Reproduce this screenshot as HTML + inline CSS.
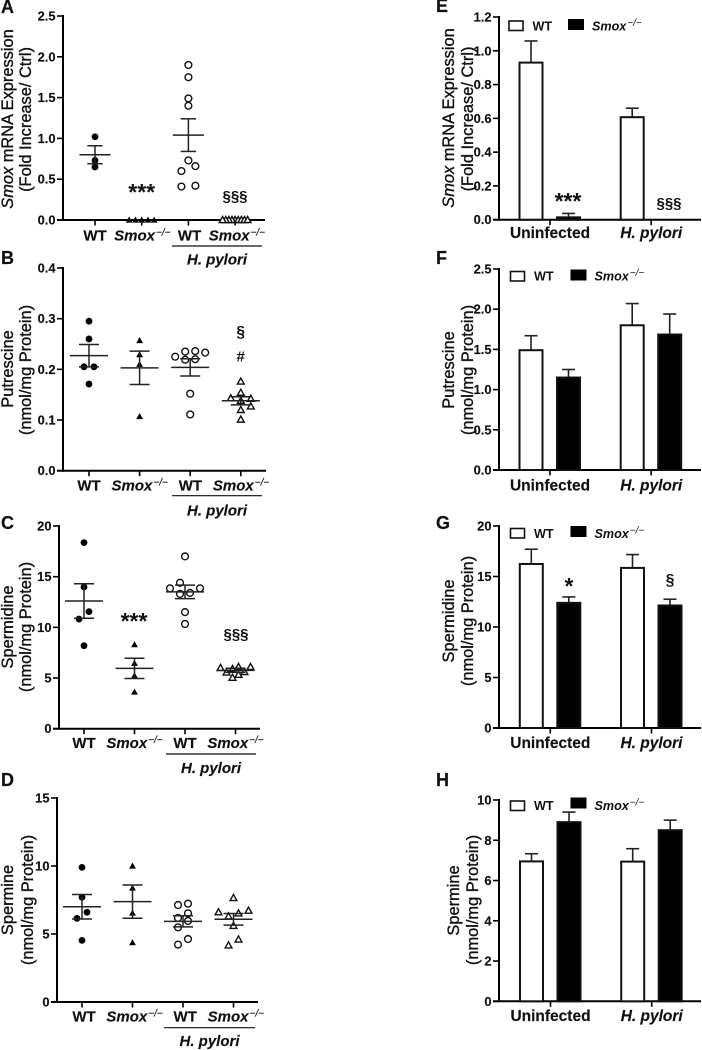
<!DOCTYPE html>
<html lang="en">
<head>
<meta charset="utf-8">
<title>Smox polyamine figure</title>
<style>
html,body{margin:0;padding:0;background:#fff;}
svg{display:block;font-family:"Liberation Sans",Arial,sans-serif;filter:blur(0.35px);}
.letter{font-size:18px;font-weight:bold;fill:#111;stroke:#111;stroke-width:.2px;}
.ytitle{font-size:16.4px;fill:#111;stroke:#111;stroke-width:.35px;text-anchor:middle;}
.tick{font-size:12.9px;font-weight:bold;fill:#111;stroke:#111;stroke-width:.15px;text-anchor:end;}
.cat{font-size:15px;font-weight:bold;fill:#111;stroke:#111;stroke-width:.15px;text-anchor:middle;}
.group{font-size:15.5px;font-weight:bold;fill:#111;stroke:#111;stroke-width:.15px;text-anchor:middle;}
.note{font-weight:bold;fill:#111;text-anchor:middle;}
.leg{font-size:12.6px;font-weight:bold;fill:#111;}
</style>
</head>
<body>
<svg id="figure" width="702" height="1050" viewBox="0 0 702 1050" xmlns="http://www.w3.org/2000/svg">
<rect width="702" height="1050" fill="#fff"/>

<g id="panel-a">
  <text class="letter" x="1" y="13">A</text>
  <text class="ytitle" transform="translate(13 119) rotate(-90)"><tspan font-style="italic">Smox</tspan> mRNA Expression</text>
  <text class="ytitle" transform="translate(31 119.5) rotate(-90)">(Fold Increase/ Ctrl)</text>
</g>
<g id="panel-b">
  <text class="letter" x="1" y="264">B</text>
  <text class="ytitle" transform="translate(13 369) rotate(-90)">Putrescine</text>
  <text class="ytitle" transform="translate(31 370) rotate(-90)">(nmol/mg Protein)</text>
</g>
<g id="panel-c">
  <text class="letter" x="1" y="529">C</text>
  <text class="ytitle" transform="translate(13 627) rotate(-90)">Spermidine</text>
  <text class="ytitle" transform="translate(31 627) rotate(-90)">(nmol/mg Protein)</text>
</g>
<g id="panel-d">
  <text class="letter" x="1" y="786">D</text>
  <text class="ytitle" transform="translate(13 900) rotate(-90)">Spermine</text>
  <text class="ytitle" transform="translate(33 900) rotate(-90)">(nmol/mg Protein)</text>
</g>
<g id="panel-e">
  <text class="letter" x="436" y="12">E</text>
  <text class="ytitle" transform="translate(454 118) rotate(-90)"><tspan font-style="italic">Smox</tspan> mRNA Expression</text>
  <text class="ytitle" transform="translate(473 119) rotate(-90)">(Fold Increase/ Ctrl)</text>
</g>
<g id="panel-f">
  <text class="letter" x="436" y="264">F</text>
  <text class="ytitle" transform="translate(454 370) rotate(-90)">Putrescine</text>
  <text class="ytitle" transform="translate(473 370) rotate(-90)">(nmol/mg Protein)</text>
</g>
<g id="panel-g">
  <text class="letter" x="436" y="529">G</text>
  <text class="ytitle" transform="translate(454 621) rotate(-90)">Spermidine</text>
  <text class="ytitle" transform="translate(473 621) rotate(-90)">(nmol/mg Protein)</text>
</g>
<g id="panel-h">
  <text class="letter" x="436" y="786">H</text>
  <text class="ytitle" transform="translate(459 900.5) rotate(-90)">Spermine</text>
  <text class="ytitle" transform="translate(478 900) rotate(-90)">(nmol/mg Protein)</text>
</g>
</svg>

<script>
// ---------- Shared labels ----------
const scatterCategories = ["WT", "Smox", "WT", "Smox"];
const barGroupLabels = ["Uninfected", "H. pylori"];
const legendLabels = ["WT", "Smox"];
const knockoutSuffix = "\u2212/\u2212";
const infectedLabel = "H. pylori";

// ---------- Panel A ----------
const aTicks = ["0.0", "0.5", "1.0", "1.5", "2.0", "2.5"];
const aWT = [1.02, 0.73, 0.65];
const aKO = [0, 0, 0, 0, 0];
const aHpWT = [1.90, 1.75, 1.49, 1.40, 0.73, 0.66, 0.60, 0.42, 0.41];
const aHpKO = [0, 0, 0, 0, 0, 0, 0, 0, 0];
const aMeans = [0.80, 0, 1.04, 0];
const aSems = [0.11, 0, 0.20, 0];

// ---------- Panel B ----------
const bTicks = ["0.0", "0.1", "0.2", "0.3", "0.4"];
const bWT = [0.295, 0.26, 0.205, 0.205, 0.171];
const bKO = [0.257, 0.229, 0.21, 0.107];
const bHpWT = [0.236, 0.235, 0.233, 0.225, 0.22, 0.219, 0.152, 0.111];
const bHpKO = [0.176, 0.154, 0.143, 0.142, 0.138, 0.127, 0.12, 0.101];
const bMeans = [0.227, 0.203, 0.204, 0.138];
const bSems = [0.022, 0.033, 0.017, 0.008];

// ---------- Panel C ----------
const cTicks = ["0", "5", "10", "15", "20"];
const cWT = [18.36, 13.98, 11.55, 10.82, 8.19];
const cKO = [8.29, 6.45, 5.23, 3.62];
const cHpWT = [17.0, 14.4, 13.85, 13.85, 13.4, 13.3, 11.5, 10.33];
const cHpKO = [6.1, 6.1, 6.0, 5.9, 5.6, 5.55, 5.33, 5.03];
const cMeans = [12.6, 5.95, 13.5, 5.76];
const cSems = [1.7, 1.0, 0.67, 0.2];

// ---------- Panel D ----------
const dTicks = ["0", "5", "10", "15"];
const dWT = [9.9, 7.7, 6.6, 6.15, 4.53];
const dKO = [10.0, 8.38, 6.54, 4.36];
const dHpWT = [7.23, 7.13, 6.52, 6.18, 5.96, 5.49, 4.63, 4.22];
const dHpKO = [7.65, 6.72, 6.6, 6.52, 6.3, 5.6, 4.6, 4.17];
const dMeans = [7.0, 7.38, 5.93, 6.08];
const dSems = [0.9, 1.22, 0.41, 0.43];

// ---------- Panel E ----------
const eTicks = ["0.0", "0.2", "0.4", "0.6", "0.8", "1.0", "1.2"];
const eWT = [0.93, 0.607];
const eKO = [0.014, 0];
const eWTErr = [0.128, 0.053];
const eKOErr = [0.023, 0];

// ---------- Panel F ----------
const fTicks = ["0.0", "0.5", "1.0", "1.5", "2.0", "2.5"];
const fWT = [1.49, 1.80];
const fKO = [1.15, 1.685];
const fWTErr = [0.18, 0.27];
const fKOErr = [0.10, 0.255];

// ---------- Panel G ----------
const gTicks = ["0", "5", "10", "15", "20"];
const gWT = [16.24, 15.85];
const gKO = [12.39, 12.13];
const gWTErr = [1.46, 1.32];
const gKOErr = [0.59, 0.62];

// ---------- Panel H ----------
const hTicks = ["0", "2", "4", "6", "8", "10"];
const hWT = [6.95, 6.94];
const hKO = [8.9, 8.5];
const hWTErr = [0.38, 0.64];
const hKOErr = [0.5, 0.5];

const SVG_NS = "http://www.w3.org/2000/svg";
function make(tag, parent, attrs) {
  const el = document.createElementNS(SVG_NS, tag);
  for (const k in attrs) el.setAttribute(k, attrs[k]);
  parent.appendChild(el);
  return el;
}
function yScale(frame, maxValue) {
  return function (v) { return frame.bottom - (v / maxValue) * (frame.bottom - frame.top); };
}
function tickMax(ticks) { return parseFloat(ticks[ticks.length - 1]); }

function drawAxes(g, frame, ticks, y, xTickPositions) {
  const yAxis = make("line", g, { x1: frame.left, x2: frame.left, y1: frame.top - 1, y2: frame.bottom + 1, stroke: "#000", "stroke-width": 2 });
  
  
  const xAxis = make("line", g, { x1: frame.left - 6, x2: frame.right, y1: frame.bottom, y2: frame.bottom, stroke: "#000", "stroke-width": 2 });
  
  
  ticks.forEach(function (t) {
    const py = y(parseFloat(t));
    const mark = make("line", g, { x1: frame.left - 6, x2: frame.left, y1: py, y2: py, stroke: "#000", "stroke-width": 1.6 });
    
    
    const label = make("text", g, { class: "tick", x: frame.left - 7.5, y: py + 4.5 });
    
    
    label.textContent = t;
  });
  xTickPositions.forEach(function (px) {
    const mark = make("line", g, { x1: px, x2: px, y1: frame.bottom, y2: frame.bottom + 5.5, stroke: "#000", "stroke-width": 1.6 });
    
    
  });
}

// Swarm layout: spreads points sideways when they would collide vertically.
function swarmOffsets(values, y, spacing, maxWidth, threshold) {
  const order = values.map(function (v, i) { return i; }).sort(function (a, b) { return values[a] - values[b]; });
  const placed = [];
  order.forEach(function (idx) {
    const py = y(values[idx]);
    let k = 0;
    while (true) {
      const dir = k === 0 ? 0 : (k % 2 === 1 ? 1 : -1) * Math.ceil(k / 2);
      const dx = dir * spacing;
      const hit = placed.some(function (p) { return Math.abs(p.dx - dx) < spacing - 0.01 && Math.abs(p.py - py) < threshold; });
      if (!hit) { placed.push({ idx: idx, py: py, dx: dx }); break; }
      k++;
    }
  });
  const out = new Array(values.length).fill(0);
  let start = 0;
  for (let i = 1; i <= placed.length; i++) {
    if (i === placed.length || Math.abs(placed[i].py - placed[i - 1].py) >= threshold) {
      const cluster = placed.slice(start, i);
      const xs = cluster.map(function (p) { return p.dx; });
      const lo = Math.min.apply(null, xs), hi = Math.max.apply(null, xs);
      const squeeze = hi - lo > maxWidth ? maxWidth / (hi - lo) : 1;
      cluster.forEach(function (p) { out[p.idx] = (p.dx - (lo + hi) / 2) * squeeze; });
      start = i;
    }
  }
  return out;
}

function drawCircle(g, cx, cy, filled) {
  const c = make("circle", g, filled
    ? { cx: cx, cy: cy, r: 3.4, fill: "#000" }
    : { cx: cx, cy: cy, r: 3.4, fill: "#fff", stroke: "#111", "stroke-width": 1.4 });
  
  
}
function drawTriangle(g, cx, cy, filled) {
  const pts = [[cx, cy - 3.5], [cx + 3.4, cy + 2.6], [cx - 3.4, cy + 2.6]].map(function (p) { return p.join(","); }).join(" ");
  const t = make("polygon", g, filled
    ? { points: pts, fill: "#000" }
    : { points: pts, fill: "#fff", stroke: "#111", "stroke-width": 1.4, "stroke-linejoin": "miter" });
  
  
}

function drawScatterPanel(id, frame, ticks, groups, means, sems) {
  const g = document.getElementById(id);
  const y = yScale(frame, tickMax(ticks));
  const tickX = function (i) { return frame.catStart + i * frame.catStep; };
  const labelX = function (i) { return frame.labelStart + i * frame.labelStep; };
  drawAxes(g, frame, ticks, y, scatterCategories.map(function (c, i) { return tickX(i); }));

  groups.forEach(function (vals, i) {
    const off = swarmOffsets(vals, y, frame.spacing, frame.maxWidth, frame.threshold);
    vals.forEach(function (v, j) {
      const cx = tickX(i) + off[j], cy = y(v);
      if (i % 2 === 0) drawCircle(g, cx, cy, i === 0);
      else drawTriangle(g, cx, cy, i === 1);
    });
  });

  means.forEach(function (m, i) {
    if (m === 0) return;
    const cx = tickX(i), top = y(m + sems[i]), bot = y(m - sems[i]), mid = y(m);
    const stem = make("line", g, { x1: cx, x2: cx, y1: top, y2: bot, stroke: "#222", "stroke-width": 1.5 });
    
    
    [top, bot].forEach(function (py) {
      const cap = make("line", g, { x1: cx - frame.capHalf, x2: cx + frame.capHalf, y1: py, y2: py, stroke: "#222", "stroke-width": 1.5 });
      
      
    });
    const line = make("line", g, { x1: cx - frame.meanHalf, x2: cx + frame.meanHalf, y1: mid, y2: mid, stroke: "#222", "stroke-width": 1.5 });
    
    
  });

  scatterCategories.forEach(function (name, i) {
    const t = make("text", g, { class: "cat", x: labelX(i), y: frame.labelY });
    
    
    if (name === "Smox") {
      const a = make("tspan", t, { "font-style": "italic", dx: 0 });
      
      
      a.textContent = name;
      const b = make("tspan", t, { "font-style": "italic", "font-weight": "normal", "font-size": 10, dx: 1, dy: -5 });
      
      
      b.textContent = knockoutSuffix;
    } else {
      t.textContent = name;
    }
  });

  const rule = make("line", g, { x1: frame.ruleLeft, x2: frame.ruleRight, y1: frame.ruleY, y2: frame.ruleY, stroke: "#111", "stroke-width": 1.2 });
  
  
  const hp = make("text", g, { class: "cat", x: (frame.ruleLeft + frame.ruleRight) / 2, y: frame.hpY, "font-style": "italic", "font-size": 15.8 });
  
  
  hp.textContent = infectedLabel;
}

function drawBarPanel(id, frame, ticks, wt, ko, wtErr, koErr, legend) {
  const g = document.getElementById(id);
  const y = yScale(frame, tickMax(ticks));
  const groupX = function (i) { return frame.groupStart + i * frame.groupStep; };
  drawAxes(g, frame, ticks, y, barGroupLabels.map(function (c, i) { return groupX(i); }));

  function bars(series, errs, shift, filled) {
    series.forEach(function (v, i) {
      const left = groupX(i) + shift - 11.5;
      const cx = left + 11.5;
      const top = y(v), errTop = y(v + errs[i]);
      if (errs[i] > 0) {
        const stem = make("line", g, { x1: cx, x2: cx, y1: errTop, y2: top, stroke: "#222", "stroke-width": 1.6 });
        
        
        const cap = make("line", g, { x1: cx - 6.5, x2: cx + 6.5, y1: errTop, y2: errTop, stroke: "#222", "stroke-width": 1.6 });
        
        
      }
      const r = make("rect", g, { x: left, y: top, width: 23, height: Math.max(0, frame.bottom - top), fill: filled ? "#000" : "#fff", stroke: "#111", "stroke-width": 2 });
      
      
    });
  }
  bars(wt, wtErr, -19, false);
  bars(ko, koErr, 18.5, true);

  barGroupLabels.forEach(function (name, i) {
    const t = make("text", g, { class: "group", x: groupX(i), y: frame.labelY, "font-style": i === 1 ? "italic" : "normal" });
    
    
    t.textContent = name;
  });

  const box1 = make("rect", g, { x: legend.x1, y: legend.wtTop, width: 14, height: 9.5, fill: "#fff", stroke: "#111", "stroke-width": 1.6 });
  
  
  const t1 = make("text", g, { class: "leg", x: legend.x1 + 23.5, y: legend.base });
  
  
  t1.textContent = legendLabels[0];
  const box2 = make("rect", g, { x: legend.x2, y: legend.koTop, width: 16, height: 11, fill: "#000" });
  
  
  const t2 = make("text", g, { class: "leg", x: legend.x2 + 24, y: legend.base, "font-style": "italic" });
  
  
  t2.textContent = legendLabels[1];
  const s2 = make("tspan", t2, { "font-weight": "normal", "font-size": 10, dx: 1, dy: -4.5 });
  
  
  s2.textContent = knockoutSuffix;
}

function note(id, text, x, y, size) {
  const t = make("text", document.getElementById(id), { class: "note", x: x, y: y, "font-size": size });
  
  
  t.textContent = text;
}

drawScatterPanel("panel-a",
  { left: 63, right: 265, top: 16, bottom: 220, catStart: 95, catStep: 46.7, labelStart: 95, labelStep: 47.3, labelY: 240.5, spacing: 14, maxWidth: 25, threshold: 5.5, capHalf: 7.7, meanHalf: 15.5, ruleLeft: 172, ruleRight: 262, ruleY: 246, hpY: 264.5 },
  aTicks, [aWT, aKO, aHpWT, aHpKO], aMeans, aSems);
drawScatterPanel("panel-b",
  { left: 63, right: 266, top: 268, bottom: 470.7, catStart: 89, catStep: 50.6, labelStart: 89, labelStep: 50.7, labelY: 490.5, spacing: 10, maxWidth: 30, threshold: 7.5, capHalf: 10, meanHalf: 19, ruleLeft: 172, ruleRight: 262, ruleY: 495.7, hpY: 515.5 },
  bTicks, [bWT, bKO, bHpWT, bHpKO], bMeans, bSems);
drawScatterPanel("panel-c",
  { left: 59, right: 260, top: 526, bottom: 728.7, catStart: 84, catStep: 50.5, labelStart: 84, labelStep: 50.5, labelY: 748, spacing: 10, maxWidth: 30, threshold: 7.5, capHalf: 10, meanHalf: 19, ruleLeft: 166, ruleRight: 256, ruleY: 754, hpY: 773 },
  cTicks, [cWT, cKO, cHpWT, cHpKO], cMeans, cSems);
drawScatterPanel("panel-d",
  { left: 57, right: 258, top: 798, bottom: 1002, catStart: 82, catStep: 50.5, labelStart: 84, labelStep: 50.6, labelY: 1021.5, spacing: 10, maxWidth: 30, threshold: 7.5, capHalf: 10, meanHalf: 19, ruleLeft: 164, ruleRight: 255, ruleY: 1027.7, hpY: 1046 },
  dTicks, [dWT, dKO, dHpWT, dHpKO], dMeans, dSems);

drawBarPanel("panel-e",
  { left: 499, right: 701, top: 17, bottom: 219.7, groupStart: 550, groupStep: 101.2, labelY: 238 },
  eTicks, eWT, eKO, eWTErr, eKOErr, { x1: 509, x2: 568, wtTop: 21, koTop: 19, base: 30.7 });
drawBarPanel("panel-f",
  { left: 499, right: 701, top: 269, bottom: 470, groupStart: 550, groupStep: 101.2, labelY: 490.5 },
  fTicks, fWT, fKO, fWTErr, fKOErr, { x1: 510.5, x2: 570.5, wtTop: 271.5, koTop: 269.5, base: 280.7 });
drawBarPanel("panel-g",
  { left: 499, right: 701, top: 526, bottom: 728, groupStart: 550.3, groupStep: 101.2, labelY: 748 },
  gTicks, gWT, gKO, gWTErr, gKOErr, { x1: 510.5, x2: 570.5, wtTop: 528.5, koTop: 526, base: 538 });
drawBarPanel("panel-h",
  { left: 499, right: 701, top: 800, bottom: 1001.3, groupStart: 550.5, groupStep: 101.2, labelY: 1021 },
  hTicks, hWT, hKO, hWTErr, hKOErr, { x1: 510.5, x2: 570.5, wtTop: 801, koTop: 797.5, base: 810 });

note("panel-a", "***", 141.7, 200, 23);
note("panel-a", "§§§", 235, 201, 15);
note("panel-b", "§", 240.7, 337, 15.5);
note("panel-b", "#", 240.7, 361.5, 15);
note("panel-c", "***", 134, 629, 23);
note("panel-c", "§§§", 236, 639, 15);
note("panel-e", "***", 568, 209, 23);
note("panel-e", "§§§", 669, 208, 15);
note("panel-g", "*", 569, 594, 23);
note("panel-g", "§", 670, 585, 15.5);
</script>
</body>
</html>
